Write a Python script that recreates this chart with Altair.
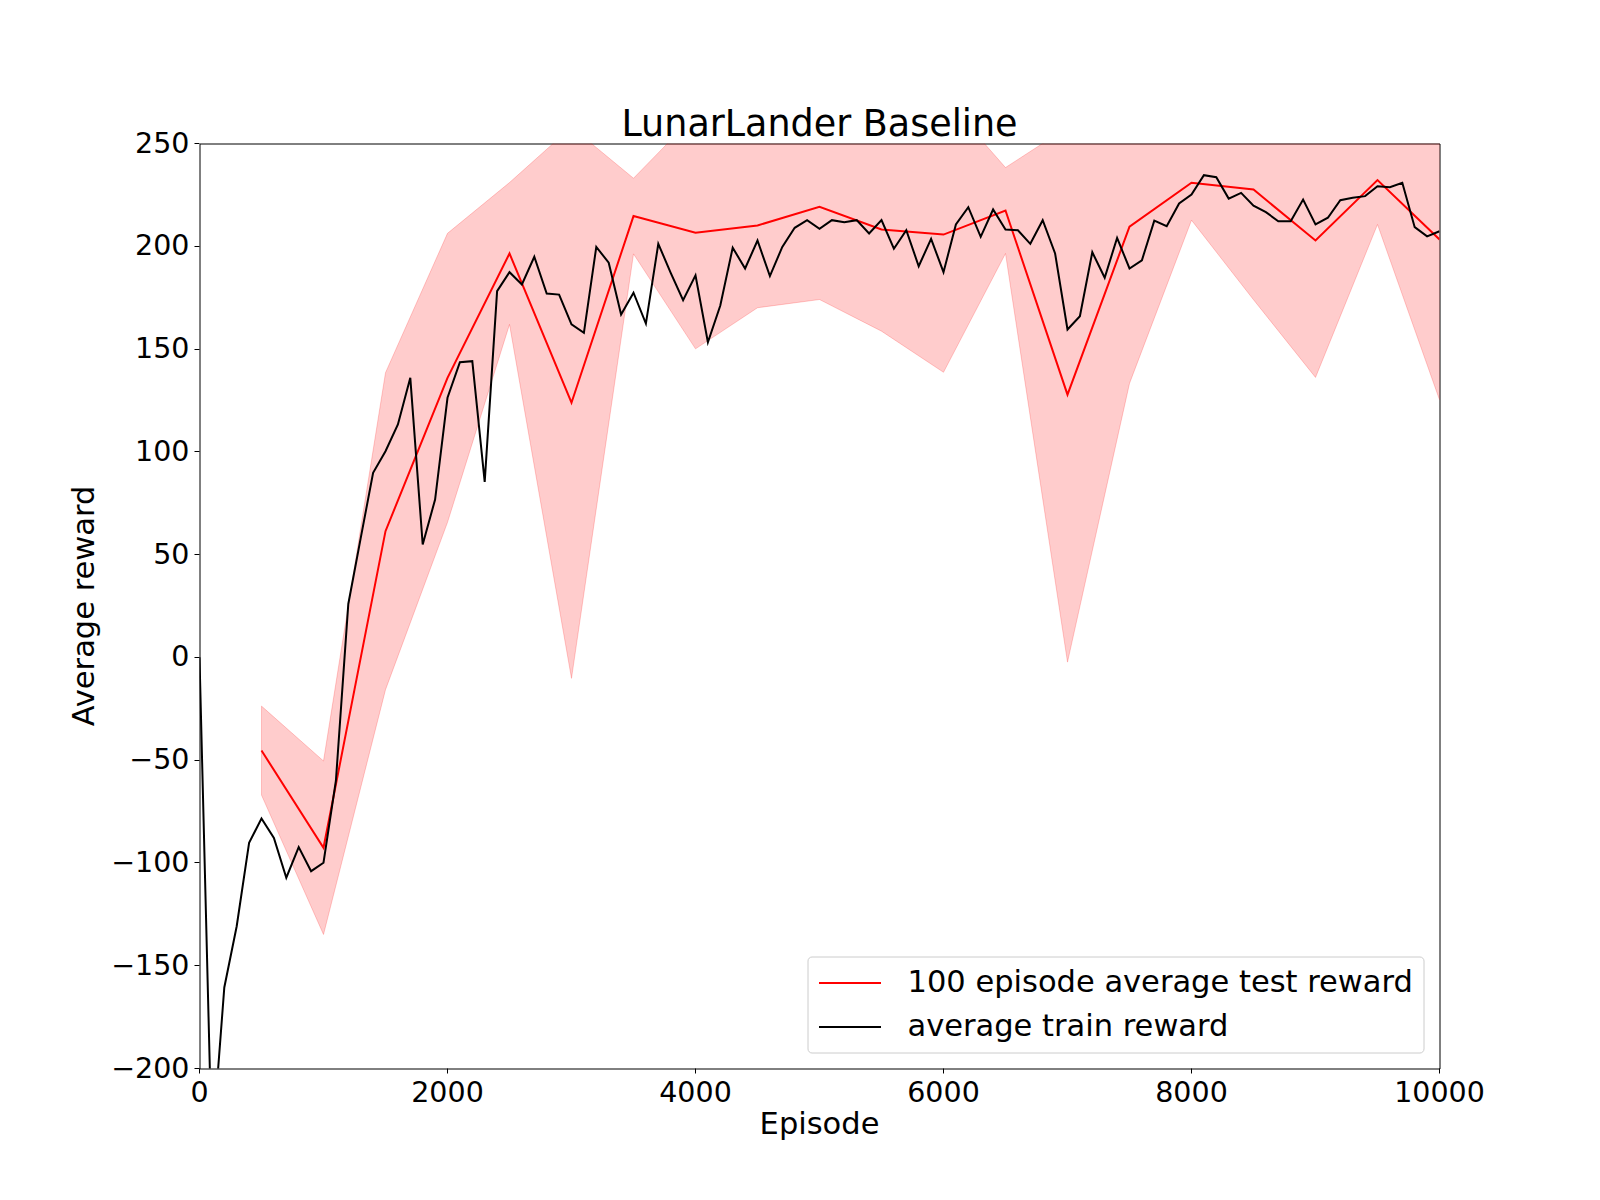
import altair as alt
import pandas as pd

# ---- data ----
test_episodes = [500, 1000, 1500, 2000, 2500, 3000, 3500, 4000, 4500, 5000,
                 5500, 6000, 6500, 7000, 7500, 8000, 8500, 9000, 9500, 10000]
test_mean = [-45.3, -92.6, 61.4, 136.0, 196.5, 123.9, 214.7, 206.6, 210.1, 219.2,
             208.2, 205.7, 217.4, 127.8, 209.5, 230.9, 227.6, 202.8, 232.2, 203.3]
test_upper = [-23.7, -50.4, 138.5, 206.3, 231.0, 258.0, 233.1, 264.0, 252.0, 264.3,
              257.7, 272.7, 238.3, 257.9, 285.7, 251.0, 281.2, 269.4, 253.8, 281.3]
test_lower = [-67.0, -134.8, -15.7, 65.7, 162.0, -10.2, 196.3, 150.1, 170.1, 174.1,
              158.7, 138.7, 196.5, -2.3, 133.3, 212.7, 174.0, 136.2, 210.6, 125.3]

train_episodes = list(range(0, 10001, 100))
train_reward = [
    0.0, -240.0, -160.6, -130.8, -90.2, -78.4, -87.8, -107.2, -92.3, -104.0,
    -99.9, -60.0, 26.0, 58.0, 89.8, 100.3, 113.3, 136.0, 54.9, 76.8,
    126.3, 143.6, 144.1, 85.4, 178.2, 187.4, 181.4, 194.9, 177.0, 176.5,
    162.0, 157.9, 199.7, 192.0, 166.8, 177.4, 162.4, 201.2, 187.1, 173.8,
    185.9, 153.3, 171.2, 199.3, 189.2, 202.8, 185.5, 199.7, 209.0, 212.7,
    208.5, 212.7, 211.7, 212.7, 206.2, 212.7, 198.8, 207.8, 190.3, 203.6,
    187.4, 210.6, 219.0, 204.6, 217.9, 208.2, 207.8, 201.2, 212.7, 196.5,
    159.5, 166.0, 197.1, 184.7, 204.1, 189.2, 193.2, 212.5, 209.8, 220.8,
    225.2, 234.6, 233.6, 223.2, 226.0, 219.8, 216.6, 212.2, 212.2, 222.7,
    210.6, 213.9, 222.4, 223.6, 224.4, 229.2, 228.7, 230.9, 209.3, 204.8,
    207.3,
]

series_names = ["100 episode average test reward", "average train reward"]
series_colors = ["#ff0000", "#000000"]
x_ticks = [0, 2000, 4000, 6000, 8000, 10000]
y_ticks = [-200, -150, -100, -50, 0, 50, 100, 150, 200, 250]

test_df = pd.DataFrame({
    "episode": test_episodes, "reward": test_mean,
    "upper": test_upper, "lower": test_lower,
    "series": series_names[0],
})
train_df = pd.DataFrame({
    "episode": train_episodes, "reward": train_reward,
    "series": series_names[1],
})

FONT = "DejaVu Sans"
W, H = 1240, 925

x_scale = alt.Scale(domain=[0, 10000], nice=False, zero=False)
y_scale = alt.Scale(domain=[-200, 250], nice=False, zero=False)

x_axis = alt.Axis(values=x_ticks, format="d", title="Episode", grid=False, domain=False,
                  tickSize=5, tickWidth=1, tickColor="black", labelPadding=5,
                  labelFontSize=28.5, labelColor="black", labelFont=FONT,
                  titleFontSize=30.5, titleFont=FONT, titleFontWeight="normal", titleColor="black",
                  titleX=W / 2, titleY=56, titleBaseline="middle", labelFlush=False,
                  translate=0)
y_axis = alt.Axis(values=y_ticks, title="Average reward", grid=False, domain=False,
                  tickSize=5, tickWidth=1, tickColor="black", labelPadding=5,
                  labelFontSize=28.5, labelColor="black", labelFont=FONT,
                  titleFontSize=30.5, titleFont=FONT, titleFontWeight="normal", titleColor="black",
                  titleX=-115, titleY=H / 2, titleBaseline="middle", titleAlign="center",
                  titleAngle=-90, labelFlush=False, translate=0)

color_scale = alt.Scale(domain=series_names, range=series_colors)
legend = alt.Legend(title=None, orient="none", legendX=608, legendY=813,
                    symbolType="M-2,0H2", symbolSize=961, symbolStrokeWidth=2,
                    symbolOffset=16,
                    labelFontSize=30.5, labelFont=FONT, labelColor="black", labelLimit=2000,
                    padding=10, rowPadding=12, labelOffset=41,
                    strokeColor="#cccccc", fillColor="white", cornerRadius=4)

band = alt.Chart(test_df).mark_area(
    clip=True, fill="#ff0000", fillOpacity=0.2, stroke="#ff0000", strokeOpacity=0.2, strokeWidth=1
).encode(
    x=alt.X("episode:Q", scale=x_scale, axis=x_axis),
    y=alt.Y("lower:Q", scale=y_scale, axis=y_axis),
    y2="upper:Q",
)

test_line = alt.Chart(test_df).mark_line(clip=True, strokeWidth=2).encode(
    x=alt.X("episode:Q", scale=x_scale, axis=x_axis),
    y=alt.Y("reward:Q", scale=y_scale, axis=y_axis),
    color=alt.Color("series:N", scale=color_scale, legend=legend),
)

train_line = alt.Chart(train_df).mark_line(clip=True, strokeWidth=2).encode(
    x=alt.X("episode:Q", scale=x_scale, axis=x_axis),
    y=alt.Y("reward:Q", scale=y_scale, axis=y_axis),
    color=alt.Color("series:N", scale=color_scale, legend=legend),
)

chart = alt.layer(band, test_line, train_line).properties(
    width=W, height=H,
    title=alt.Title("LunarLander Baseline", fontSize=36.5, font=FONT, fontWeight="normal",
                    color="black", anchor="middle", frame="group", offset=8, dy=51,
                    baseline="alphabetic"),
    autosize=alt.AutoSizeParams(type="none"),
    padding={"left": 191.5, "top": 135.5, "right": 150, "bottom": 110},
).configure(
    font=FONT, background="white"
).configure_view(
    stroke="black", strokeWidth=1
)

chart.save("out.html", embed_options={"renderer": "svg", "actions": False})
